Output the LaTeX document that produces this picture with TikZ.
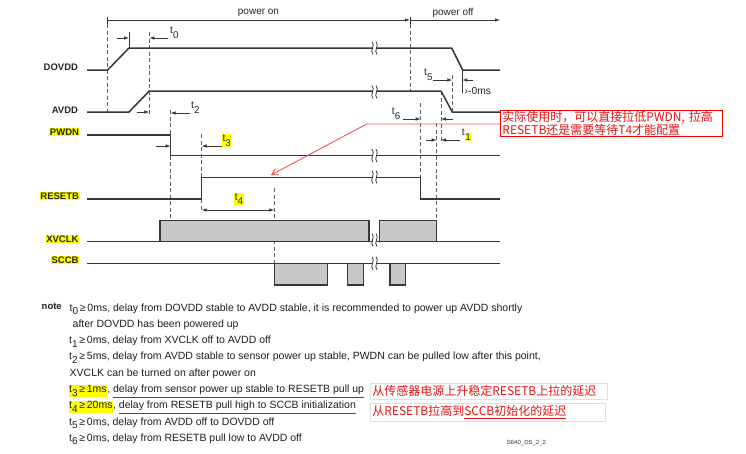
\documentclass[tikz,border=0pt]{standalone}
\usepackage{fontspec}
\setmainfont{Liberation Sans}
\newfontfamily\cjk{Noto Sans CJK SC}
\usetikzlibrary{arrows.meta}
\definecolor{sigc}{RGB}{55,55,55}
\definecolor{dashc}{RGB}{95,95,95}
\definecolor{boxc}{RGB}{200,200,202}
\definecolor{redl}{RGB}{240,85,85}
\definecolor{cjkred}{RGB}{230,20,20}
\definecolor{hlyel}{RGB}{255,255,0}
\newcommand\tsb[1]{t\raisebox{-4.5pt}{\fontsize{9.8}{9.8}\selectfont #1}}
\newcommand\ntsb[1]{t\raisebox{-3.5pt}{\fontsize{10}{10}\selectfont #1}}
\newcommand\redul[1]{\setbox0\hbox{#1}\rlap{\textcolor{red}{\rule[-5.4pt]{\wd0}{1.4pt}}}\box0}
\newcommand\cjkul[1]{\setbox0\hbox{#1}\rlap{\rule[-2.6pt]{\wd0}{0.9pt}}\box0}
\newcommand\hly[1]{{\setlength\fboxsep{0.6pt}\colorbox{hlyel}{#1}}}
\begin{document}
\begin{tikzpicture}[x=1pt,y=-1pt,
  sig/.style={draw=sigc, line width=1.5pt},
  dsh/.style={draw=dashc, line width=0.9pt, dash pattern=on 4pt off 2.5pt},
  tk/.style={draw=sigc, line width=0.8pt},
  tarr/.style={draw=sigc, line width=0.8pt, -{Latex[length=5pt,width=3.6pt]}},
  sigbox/.style={fill=boxc, draw=sigc, line width=1.2pt},
  lbl/.style={font=\fontsize{9.5}{10}\selectfont\bfseries, anchor=base east, inner sep=0.8pt, text=black!85},
  tlab/.style={font=\fontsize{10.3}{10}\selectfont, anchor=base west, inner sep=0pt, text=black!85},
  notetxt/.style={font=\fontsize{10.5}{11}\selectfont, anchor=base west, inner sep=0pt, text=black!88},
  cjkbox/.style={draw=black!12, line width=0.7pt, anchor=north west, inner xsep=2pt, inner ysep=0pt, align=left, text=cjkred, font=\cjk\fontsize{12}{13}\selectfont},
  brk/.pic={
    \fill[white] (-2.2,-2.5) rectangle (2.2,2.5);
    \draw[sigc, line width=0.8pt] (-3,-6.5) .. controls (0.8,-3) and (-5.8,3) .. (-2,6.5);
    \draw[sigc, line width=0.8pt] (1,-6.5) .. controls (4.8,-3) and (-1.8,3) .. (2,6.5);
  }]
\useasboundingbox (0,0) rectangle (746,453);
\fill[white] (0,0) rectangle (746,453);

% ---------- power on / off ----------
\coordinate (pon) at (107.7,20);
\coordinate (poff) at (410,20);
\coordinate (pend) at (500,20);
\draw[tk] (107.7,16.5) -- (107.7,24);
\draw[tk] (410,16.5) -- (410,24);
\draw[tarr] (pon) -- (poff);
\draw[tarr] (poff) -- (pend);
\node[font=\fontsize{10}{10}\selectfont, text=black!85, inner sep=0pt] (ponl) at (258.5,12.5) {power on};
\node[font=\fontsize{10}{10}\selectfont, text=black!85, inner sep=0pt] (poffl) at (453,12.5) {power off};

% ---------- dashed guide lines ----------
\draw[dsh] (107.7,24) -- (107.7,112);
\draw[dsh] (149.3,32) -- (149.3,115);
\draw[dsh] (170.7,110) -- (170.7,220.7);
\draw[dsh] (201.7,134) -- (201.7,212);
\draw[dsh] (274.3,188) -- (274.3,263.3);
\draw[dsh] (410,24) -- (410,91);
\draw[dsh] (420.7,103) -- (420.7,177.7);
\draw[dsh] (436.7,123) -- (436.7,220.7);
\draw[dsh] (441,91) -- (441,143);
\draw[dsh] (452.3,75) -- (452.3,112);
\draw[tk] (129,32) -- (129,48);
\draw[tk] (462.3,70) -- (462.3,93);

% ---------- signal labels ----------
\node[lbl] (ldovdd) at (79,70.7) {DOVDD};
\node[lbl] (lavdd) at (79,113.3) {AVDD};
\node[lbl, fill=hlyel] (lpwdn) at (80,135) {PWDN};
\node[lbl, fill=hlyel] (lreset) at (80,199) {RESETB};
\node[lbl, fill=hlyel] (lxvclk) at (79.5,242.3) {XVCLK};
\node[lbl, fill=hlyel] (lsccb) at (79.5,263.3) {SCCB};

% ---------- signals ----------
\draw[sig] (87,70) -- (107.7,70) -- (129,48) -- (451.7,48) -- (462.7,70) -- (500,70);
\draw[sig] (87,112) -- (129,112) -- (149.3,91) -- (441,91) -- (452.3,112) -- (500,112);
\draw[sig] (87,135) -- (170.7,135) -- (170.7,155.7) -- (500,155.7);
\draw[sig] (87,199) -- (201.7,199) -- (201.7,177.7) -- (420.7,177.7) -- (420.7,199) -- (500,199);
\draw[sig] (87,241.7) -- (500,241.7);
\draw[sigbox] (160,241.7) rectangle (369,220.7);
\draw[sigbox] (379.3,241.7) rectangle (436.7,220.7);
\draw[sig] (87,263.3) -- (500,263.3);
\draw[sigbox] (274.3,263.3) rectangle (327.3,285);
\draw[sigbox] (347.7,263.3) rectangle (363.6,285);
\draw[sigbox] (390,263.3) rectangle (405.5,285);

% ---------- break marks ----------
\pic at (375,48) {brk};
\pic at (375,92) {brk};
\pic at (375,155.7) {brk};
\pic at (375,177) {brk};
\pic at (375,240) {brk};
\pic at (375,263.3) {brk};

% ---------- timing arrows ----------
\draw[tarr] (117,38) -- (129,38);
\draw[tarr] (168,38) -- (149.3,38);
\draw[tarr] (137,112) -- (149.3,112);
\draw[tarr] (190,113) -- (170.7,113);
\draw[tarr] (156,146) -- (170.7,146);
\draw[tarr] (223,146) -- (201.7,146);
\draw[tarr, {Latex[length=5pt,width=3.6pt]}-{Latex[length=5pt,width=3.6pt]}] (201.7,210) -- (274.3,210);
\draw[tarr] (433,80) -- (452.3,80);
\draw[tarr] (473,80) -- (462.3,80);
\draw[tarr] (403,119) -- (420.7,119);
\draw[tarr] (453,119) -- (441,119);
\draw[tarr] (426,140) -- (436.7,140);
\draw[tarr] (460,140) -- (441,140);

% ---------- timing labels ----------
\node[tlab] (lt0) at (170,33.5) {\tsb{0}};
\node[tlab] (lt2) at (191,108.5) {\tsb{2}};
\node[tlab] (lt3) at (221.7,141.5) {\hly{\tsb{3}}};
\node[tlab] (lt4) at (234,200) {\hly{\tsb{4}}};
\node[tlab] (lt5) at (424,75.5) {\tsb{5}};
\node[tlab] (lt6) at (391.7,114.5) {\tsb{6}};
\node[tlab] (lt1) at (461.7,135.5) {t\raisebox{-4.5pt}{\hly{\fontsize{9.8}{9.8}\selectfont 1}}};
\node[tlab] (l0ms) at (464.5,94) {›-0ms};

% ---------- red annotation ----------
\node[draw=red, line width=0.8pt, anchor=north west, inner xsep=2pt, inner ysep=1pt,
      text width=218pt, align=left, text=cjkred, font=\cjk\fontsize{12}{13}\selectfont]
      (redbox) at (500,110) {实际使用时，可以直接拉低PWDN, 拉高\\RESETB还是需要等待T4才能配置};
\coordinate (rbk) at (366.7,124);
\coordinate (rtip) at (271,175);
\draw[redl, line width=0.9pt, -{Straight Barb[length=6pt,width=7pt]}] (redbox.west |- rbk) -- (rbk) -- (rtip);

% ---------- notes ----------
\node[font=\fontsize{9.5}{10}\selectfont\bfseries, anchor=base west, inner sep=0pt, text=black!88] (notel) at (41.5,309.5) {note};
\node[notetxt] (n0) at (69.5,311) {\ntsb{0}\,≥\,0ms, delay from DOVDD stable to AVDD stable, it is recommended to power up AVDD shortly};
\node[notetxt] (n0b) at (72.5,327.3) {after DOVDD has been powered up};
\node[notetxt] (n1) at (69,343.6) {\ntsb{1}\,≥\,0ms, delay from XVCLK off to AVDD off};
\node[notetxt] (n2) at (69,359.9) {\ntsb{2}\,≥\,5ms, delay from AVDD stable to sensor power up stable, PWDN can be pulled low after this point,};
\node[notetxt] (n2b) at (69.5,376.2) {XVCLK can be turned on after power on};
\node[notetxt] (n3) at (68.3,392.5) {\hly{\ntsb{3}\,≥\,1ms}, \redul{delay from sensor power up stable to RESETB pull up}};
\node[notetxt] (n4) at (68.3,408.8) {\hly{\ntsb{4}\,≥\,20ms}, \redul{delay from RESETB pull high to SCCB initialization}};
\node[notetxt] (n5) at (69,425.1) {\ntsb{5}\,≥\,0ms, delay from AVDD off to DOVDD off};
\node[notetxt] (n6) at (69,441.4) {\ntsb{6}\,≥\,0ms, delay from RESETB pull low to AVDD off};

\node[cjkbox, text width=232.7pt, minimum height=16.3pt] (c3) at (370,382.7) {从传感器电源上升稳定RESETB上拉的延迟};
\node[cjkbox, text width=231pt, minimum height=18pt] (c4) at (370,402.7) {从RESETB拉高到\cjkul{SCCB初始化的延迟}};

\node[font=\fontsize{6}{6}\selectfont, anchor=base west, inner sep=0pt, text=black!80] (dsid) at (506.7,444) {S640\_DS\_2\_2};
\end{tikzpicture}
\end{document}
